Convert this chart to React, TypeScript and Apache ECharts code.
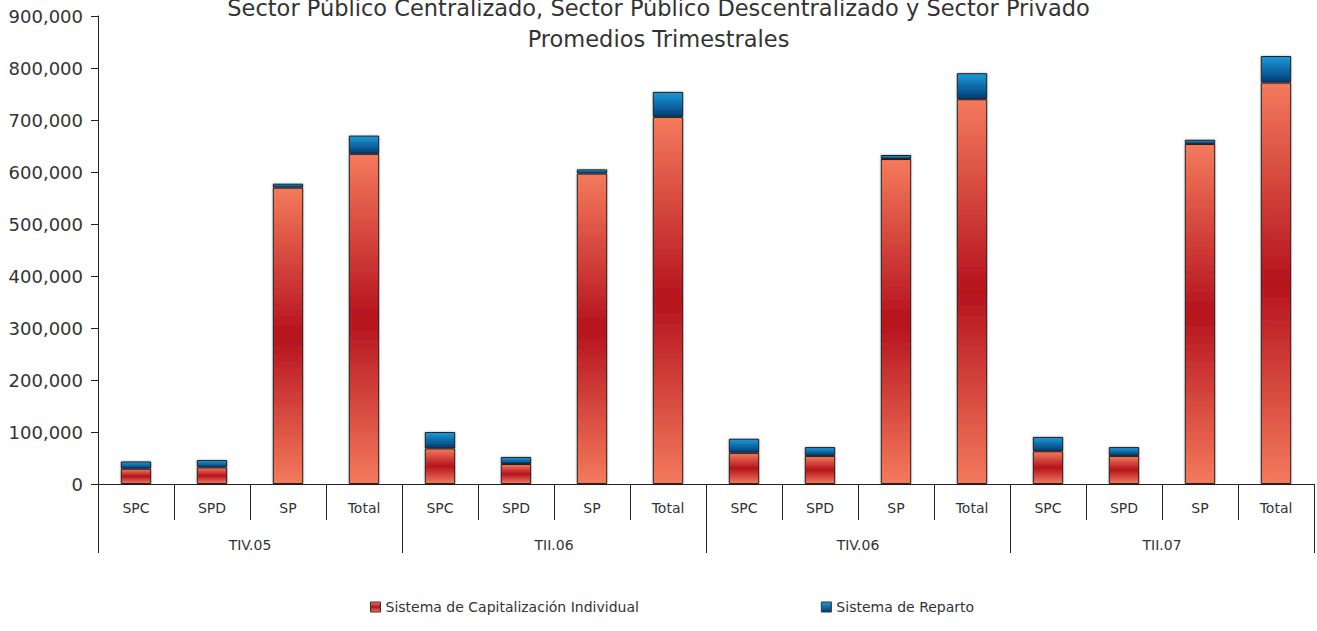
import React, { useEffect, useRef } from "react";
import * as echarts from "echarts";

const groups = ["TIV.05", "TII.06", "TIV.06", "TII.07"];
const sectors = ["SPC", "SPD", "SP", "Total"];
const categories = groups.flatMap(() => sectors);
const capitalizacion = [
  29400, 32000, 570000, 635000,
  68500, 38500, 597000, 706000,
  60000, 54000, 625000, 740000,
  63000, 54000, 654000, 772000,
];
const reparto = [
  14000, 14000, 7500, 35000,
  31500, 13500, 8000, 48000,
  27000, 17000, 7700, 50000,
  27500, 17000, 8000, 51000,
];
const yTicks = { min: 0, max: 900000, interval: 100000 };

const FONT = "DejaVu Sans";

export default function App() {
  const ref = useRef<HTMLDivElement>(null);
  useEffect(() => {
    document.body.style.margin = "0";
    const chart = echarts.init(ref.current!, null, { renderer: "svg" });
    const red = new echarts.graphic.LinearGradient(0, 0, 0, 1, [
      { offset: 0, color: "#f47a5c" },
      { offset: 0.5, color: "#b5121d" },
      { offset: 1, color: "#f47a5c" },
    ]);
    const blue = new echarts.graphic.LinearGradient(0, 0, 0, 1, [
      { offset: 0, color: "#1a9ad9" },
      { offset: 1, color: "#003e78" },
    ]);
    chart.setOption({
      animation: false,
      textStyle: { fontFamily: FONT },
      title: {
        text: "Sector Público Centralizado, Sector Público Descentralizado y Sector Privado\nPromedios Trimestrales",
        left: "center",
        top: -8,
        padding: 0,
        textStyle: { fontFamily: FONT, fontSize: 22.5, fontWeight: "normal", color: "#333", lineHeight: 31, align: "center" },
      },
      legend: {
        left: 365,
        top: 595,
        itemGap: 182,
        itemWidth: 10,
        itemHeight: 10,
        icon: "rect",
        textStyle: { fontFamily: FONT, fontSize: 14, color: "#333" },
        data: [
          { name: "Sistema de Capitalización Individual", itemStyle: { color: red, borderColor: "#333", borderWidth: 1 } },
          { name: "Sistema de Reparto", itemStyle: { color: blue, borderColor: "#333", borderWidth: 1 } },
        ],
      },
      grid: { left: 98, right: 3, top: 16, bottom: 147, containLabel: false },
      xAxis: [
        {
          type: "category",
          data: categories,
          axisLine: { show: true, lineStyle: { color: "#222", width: 1 } },
          axisTick: { show: true, length: 36, lineStyle: { color: "#222", width: 1 }, interval: 0 },
          axisLabel: { interval: 0, margin: 17, fontSize: 14, color: "#333", fontFamily: FONT },
        },
        {
          type: "category",
          data: groups,
          position: "bottom",
          axisLine: { show: false },
          axisTick: { show: true, length: 69, lineStyle: { color: "#222", width: 1 }, interval: 0 },
          axisLabel: { interval: 0, margin: 54, fontSize: 14, color: "#333", fontFamily: FONT },
        },
      ],
      yAxis: {
        type: "value",
        min: yTicks.min,
        max: yTicks.max,
        interval: yTicks.interval,
        axisLine: { show: true, lineStyle: { color: "#222" } },
        axisTick: { show: true, length: 7, lineStyle: { color: "#222" } },
        splitLine: { show: false },
        axisLabel: {
          margin: 15,
          fontSize: 18,
          color: "#333",
          fontFamily: FONT,
          formatter: (v: number) => v.toLocaleString("en-US"),
        },
      },
      series: [
        {
          name: "Sistema de Capitalización Individual",
          type: "bar",
          stack: "a",
          barWidth: "40%",
          data: capitalizacion,
          itemStyle: { color: red, borderColor: "#222", borderWidth: 1, shadowBlur: 2, shadowColor: "rgba(0,0,0,0.35)" },
        },
        {
          name: "Sistema de Reparto",
          type: "bar",
          stack: "a",
          barWidth: "40%",
          data: reparto,
          itemStyle: { color: blue, borderColor: "#222", borderWidth: 1, shadowBlur: 2, shadowColor: "rgba(0,0,0,0.35)" },
        },
      ],
    });
    return () => chart.dispose();
  }, []);
  return <div ref={ref} style={{ position: "absolute", left: 0, top: 0, width: 1317, height: 631 }} />;
}
